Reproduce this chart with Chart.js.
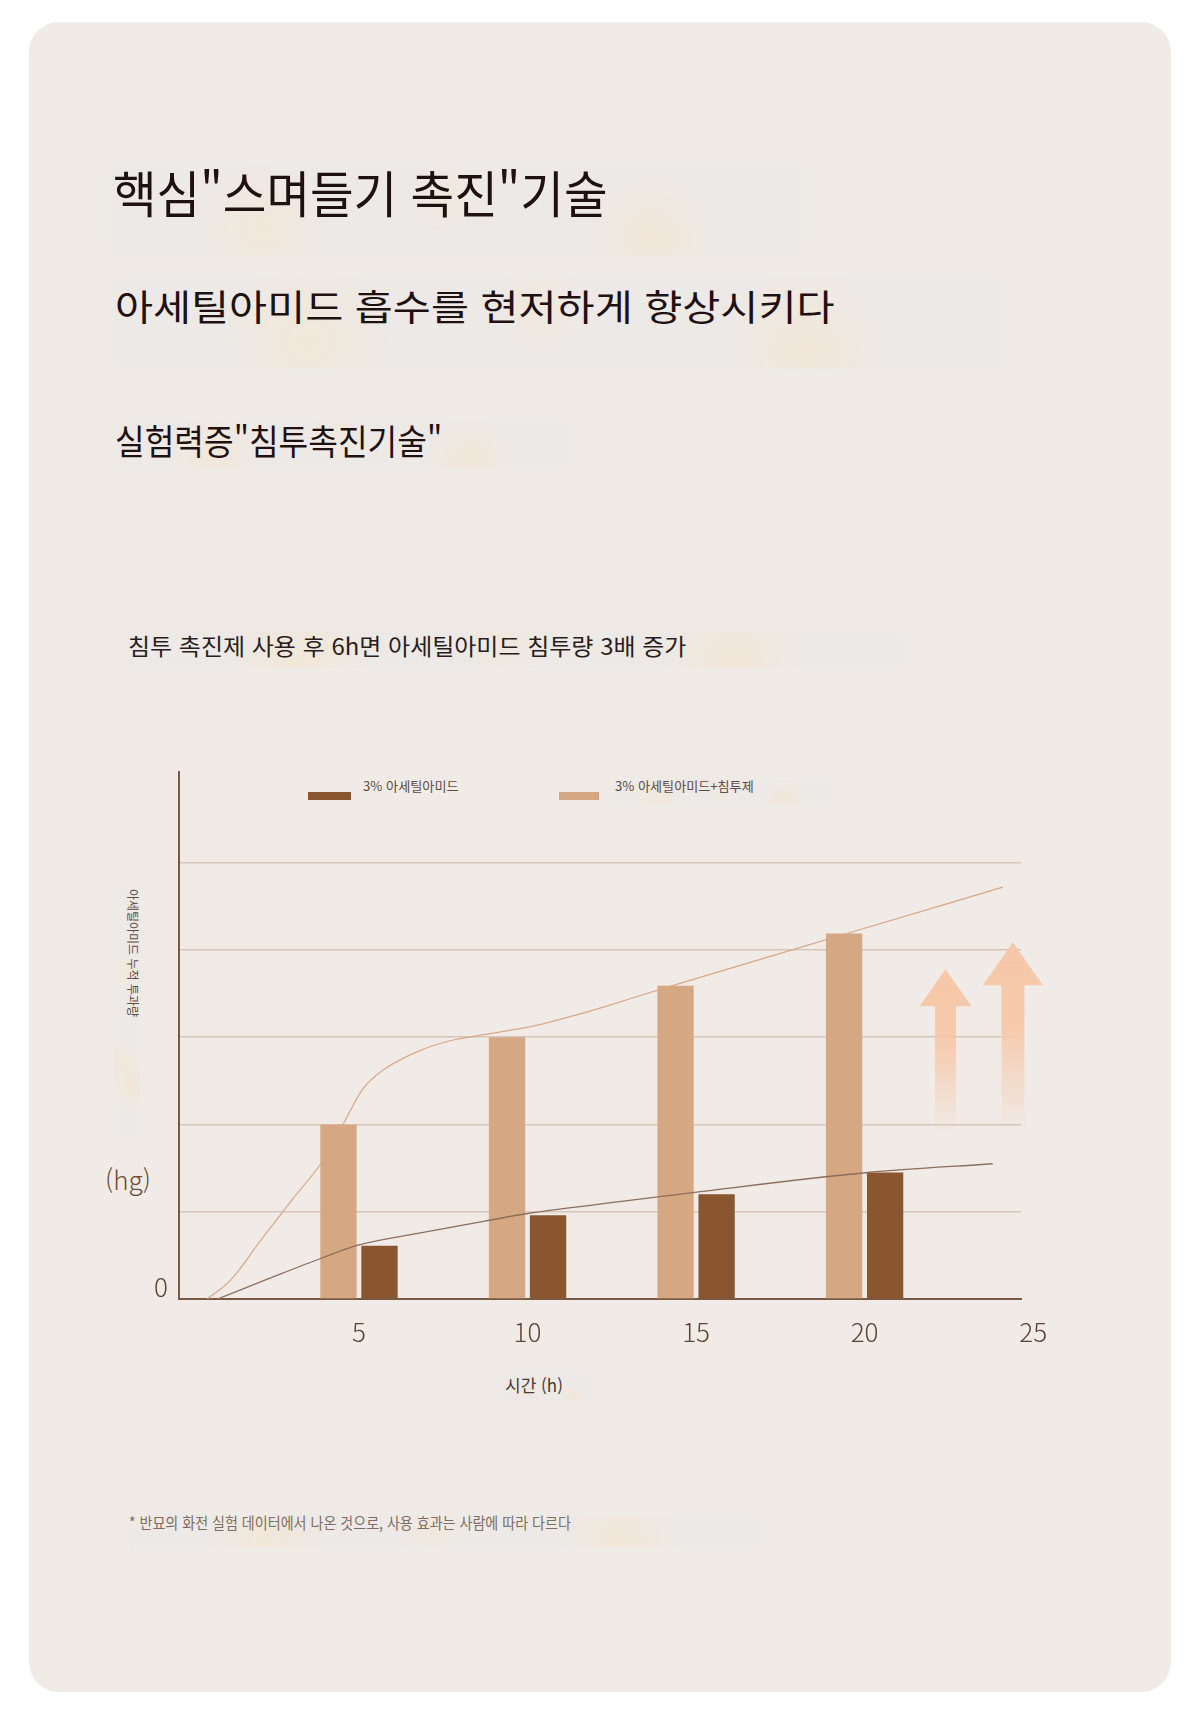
<!DOCTYPE html>
<html lang="ko">
<head>
<meta charset="utf-8">
<title>침투 촉진 기술</title>
<script src="https://cdn.jsdelivr.net/npm/chart.js@4.4.1/dist/chart.umd.min.js"></script>
<style>
  html, body { margin: 0; padding: 0; background: #ffffff; }
  body { width: 1200px; height: 1731px; position: relative; overflow: hidden;
         font-family: "Noto Sans CJK KR", "Noto Sans", sans-serif; }
  .card { position: absolute; left: 29px; top: 22px; width: 1142px; height: 1670px;
          border-radius: 30px; background: #f0ebe6; }
  .haze { position: absolute; border-radius: 8px;
          background:
            radial-gradient(circle at 22% 70%, rgba(250,228,190,.35), rgba(250,228,190,0) 12%),
            radial-gradient(circle at 48% 35%, rgba(250,230,196,.3), rgba(250,230,196,0) 10%),
            radial-gradient(circle at 78% 80%, rgba(250,226,188,.35), rgba(250,226,188,0) 12%),
            rgba(234,232,229,.55);
          box-shadow: 0 0 4px 2px rgba(234,232,229,.45); }
  .txt { position: absolute; white-space: nowrap; line-height: 1; transform-origin: 0 50%; }
  .title { color: #1f1012; }
  .swatch { position: absolute; height: 8px; }
  #chartBox { position: absolute; left: 0; top: 740px; width: 1200px; height: 680px; }
</style>
</head>
<body>
<div class="card"></div>

<!-- 번역 오버레이 흔적 -->
<div class="haze" style="left:109px;top:163px;width:696px;height:93px"></div>
<div class="haze" style="left:113px;top:277px;width:888px;height:92px"></div>
<div class="haze" style="left:115px;top:421px;width:455px;height:48px"></div>
<div class="haze" style="left:128px;top:632px;width:775px;height:36px"></div>
<div class="haze" style="left:610px;top:780px;width:225px;height:25px"></div>
<div class="haze" style="left:115px;top:883px;width:25px;height:254px"></div>
<div class="haze" style="left:502px;top:1372px;width:91px;height:28px"></div>
<div class="haze" style="left:127px;top:1517px;width:633px;height:30px"></div>

<div class="txt title" data-w="495" style="left:113px;top:166px;font-size:50px">핵심"스며들기 촉진"기술</div>
<div class="txt title" data-w="719" style="left:115px;top:287px;font-size:36px">아세틸아미드 흡수를 현저하게 향상시키다</div>
<div class="txt title" data-w="327" style="left:115px;top:422px;font-size:35px">실험력증"침투촉진기술"</div>
<div class="txt" data-w="558" style="left:128px;top:634px;font-size:23px;color:#2a1d1c">침투 촉진제 사용 후 6h면 아세틸아미드 침투량 3배 증가</div>

<div class="swatch" id="sw0" style="left:308px;top:792px;width:43px"></div>
<div class="txt" id="lg0" data-w="96" style="left:363px;top:779px;font-size:13px;color:#5f4c40"></div>
<div class="swatch" id="sw1" style="left:559px;top:792px;width:40px"></div>
<div class="txt" id="lg1" data-w="139" style="left:615px;top:779px;font-size:13px;color:#5f4c40"></div>

<div class="txt" style="left:63px;top:947px;width:140px;font-size:12px;color:#5e4a3e;text-align:center;transform-origin:50% 50%;transform:rotate(90deg)">아세틸아미드 누적 투과량</div>
<div class="txt" style="left:80px;top:1166px;width:96px;font-size:26px;color:#6a4a36;text-align:center;font-weight:300">(hg)</div>
<div class="txt" style="left:434px;top:1376px;width:200px;font-size:17px;color:#4e3a30;text-align:center">시간 (h)</div>

<div class="txt" data-w="442" style="left:129px;top:1514px;font-size:16px;color:#7d6d65">* 반묘의 화전 실험 데이터에서 나온 것으로, 사용 효과는 사람에 따라 다르다</div>

<div id="chartBox"><canvas id="chart" width="1200" height="680"></canvas></div>

<script>
// 데이터
const seriesNames = ['3% 아세틸아미드', '3% 아세틸아미드+침투제'];
const hours = [5, 10, 15, 20];
const xTicks = [5, 10, 15, 20, 25];
const barPlain = [0.61, 0.96, 1.20, 1.45];
const barBoost = [2.0, 3.0, 3.59, 4.19];

// 추세 곡선
const curveBoostX = [0.5, 1.2, 2.1, 3.0, 3.9, 4.5, 5.1, 5.7, 6.7, 7.7, 8.7, 10.2, 11.4, 12.2, 14.2, 19.4, 24.1];
const curveBoostY = [0, 0.22, 0.68, 1.13, 1.57, 1.98, 2.40, 2.62, 2.83, 2.96, 3.03, 3.13, 3.25, 3.34, 3.58, 4.18, 4.72];
const curvePlainX = [0.8, 2.3, 3.9, 5.0, 6.7, 8.7, 10.0, 12.2, 14.9, 20.1, 23.8];
const curvePlainY = [0, 0.23, 0.47, 0.62, 0.75, 0.89, 0.98, 1.09, 1.22, 1.45, 1.55];

// 상승 화살표 위치
const arrowHours = [22.4, 24.4];
const arrowTops = [3.78, 4.09];
const arrowBase = 1.9;

const colorPlain = '#8a5630';
const colorBoost = '#d5a883';

document.getElementById('sw0').style.background = colorPlain;
document.getElementById('sw1').style.background = colorBoost;
document.getElementById('lg0').textContent = seriesNames[0];
document.getElementById('lg1').textContent = seriesNames[1];

// 텍스트 폭 맞추기
document.querySelectorAll('[data-w]').forEach(el => {
    const w = el.scrollWidth;
    if (w > 0) el.style.transform = 'scaleX(' + (parseFloat(el.dataset.w) / w) + ')';
});

const toPoints = (xs, ys) => xs.map((v, i) => ({ x: v, y: ys[i] }));

const arrowPlugin = {
    id: 'riseArrows',
    afterDatasetsDraw(chart) {
        const { ctx, scales: { x, y } } = chart;
        const sizes = [{ head: 52, headH: 37, shaft: 21 }, { head: 60, headH: 43, shaft: 23 }];
        arrowHours.forEach((h, i) => {
            const cx = x.getPixelForValue(h);
            const tip = y.getPixelForValue(arrowTops[i]);
            const bottom = y.getPixelForValue(arrowBase);
            const s = sizes[i];
            const g = ctx.createLinearGradient(0, tip, 0, bottom);
            g.addColorStop(0, 'rgba(246,199,168,1)');
            g.addColorStop(0.42, 'rgba(246,199,168,0.95)');
            g.addColorStop(1, 'rgba(246,199,168,0)');
            ctx.save();
            ctx.fillStyle = g;
            ctx.beginPath();
            ctx.moveTo(cx, tip);
            ctx.lineTo(cx + s.head / 2, tip + s.headH);
            ctx.lineTo(cx + s.shaft / 2, tip + s.headH);
            ctx.lineTo(cx + s.shaft / 2, bottom);
            ctx.lineTo(cx - s.shaft / 2, bottom);
            ctx.lineTo(cx - s.shaft / 2, tip + s.headH);
            ctx.lineTo(cx - s.head / 2, tip + s.headH);
            ctx.closePath();
            ctx.fill();
            ctx.restore();
        });
    }
};

new Chart(document.getElementById('chart'), {
    data: {
        datasets: [
            {
                type: 'line',
                label: seriesNames[1] + ' 추세',
                data: toPoints(curveBoostX, curveBoostY),
                borderColor: '#d8a887',
                borderWidth: 1.2,
                pointRadius: 0,
                cubicInterpolationMode: 'monotone',
                fill: false,
                order: 0
            },
            {
                type: 'line',
                label: seriesNames[0] + ' 추세',
                data: toPoints(curvePlainX, curvePlainY),
                borderColor: '#8d6e5b',
                borderWidth: 1.3,
                pointRadius: 0,
                cubicInterpolationMode: 'monotone',
                fill: false,
                order: 0
            },
            {
                type: 'bar',
                label: seriesNames[1],
                data: toPoints(hours, barBoost),
                backgroundColor: colorBoost,
                categoryPercentage: 0.487,
                barPercentage: 0.885,
                order: 1
            },
            {
                type: 'bar',
                label: seriesNames[0],
                data: toPoints(hours, barPlain),
                backgroundColor: colorPlain,
                categoryPercentage: 0.487,
                barPercentage: 0.885,
                order: 1
            }
        ]
    },
    options: {
        responsive: false,
        animation: false,
        layout: { padding: { left: 119, top: 32, right: 179, bottom: 61 } },
        plugins: { legend: { display: false }, tooltip: { enabled: false } },
        scales: {
            x: {
                type: 'linear',
                offset: false,
                min: -0.34,
                max: 24.64,
                afterBuildTicks: s => { s.ticks = xTicks.map(v => ({ value: v })); },
                afterFit: s => { s.height = 60; },
                ticks: {
                    autoSkip: false,
                    maxRotation: 0,
                    padding: 10,
                    color: '#5f4434',
                    font: { family: '"Noto Sans CJK KR", "Noto Sans", sans-serif', size: 26, weight: 300 }
                },
                grid: { display: false, offset: false },
                border: { color: '#7b5a43', width: 2 }
            },
            y: {
                type: 'linear',
                min: 0,
                max: 6.04,
                afterFit: s => { s.width = 60; },
                ticks: {
                    stepSize: 1,
                    padding: 11,
                    labelOffset: -12,
                    color: '#5f4434',
                    font: { family: '"Noto Sans CJK KR", "Noto Sans", sans-serif', size: 26, weight: 300 },
                    callback: v => (v === 0 ? '0' : '')
                },
                grid: {
                    drawTicks: false,
                    lineWidth: 1.5,
                    color: c => (c.tick && c.tick.value >= 1 && c.tick.value <= 5 ? '#d8c5ba' : 'rgba(0,0,0,0)')
                },
                border: { color: '#7b5a43', width: 2 }
            }
        }
    },
    plugins: [arrowPlugin]
});
</script>
</body>
</html>
